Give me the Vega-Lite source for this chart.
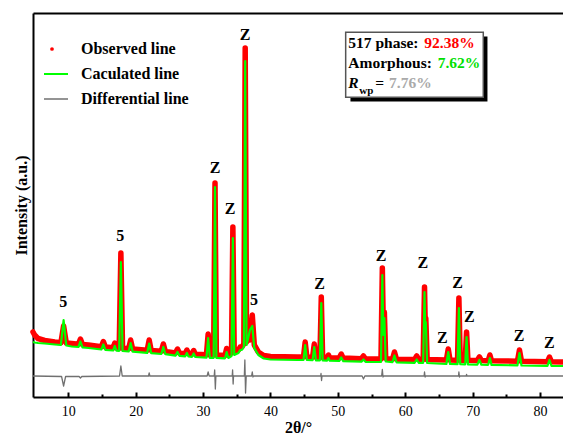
{
  "$schema": "https://vega.github.io/schema/vega-lite/v6.json",
  "width": 530,
  "height": 384,
  "autosize": {"type": "none"},
  "padding": {"left": 33, "top": 13, "right": 0, "bottom": 38},
  "background": "white",
  "config": {"view": {"stroke": null}, "font": "Times New Roman, Liberation Serif, serif"},
  "datasets": {
    "profile": [
      {"t": 4.76, "obs": 65, "calc": 55}, {"t": 5.0, "obs": 62, "calc": 54.5}, {"t": 5.5, "obs": 58.5, "calc": 54}, {"t": 6.5, "obs": 56.5, "calc": 53.5},
      {"t": 8, "obs": 55, "calc": 52.5}, {"t": 8.9, "obs": 54.3, "calc": 52}, {"t": 9.3, "obs": 71, "calc": 77}, {"t": 9.7, "obs": 54, "calc": 51.5},
      {"t": 10.5, "obs": 53.5, "calc": 50.5}, {"t": 11.5, "obs": 52.8, "calc": 50}, {"t": 11.8, "obs": 58, "calc": 55.5}, {"t": 12.1, "obs": 52.5, "calc": 49.7},
      {"t": 13, "obs": 52, "calc": 49}, {"t": 14.9, "obs": 50.3, "calc": 47.5}, {"t": 15.2, "obs": 55.5, "calc": 52.5}, {"t": 15.5, "obs": 50, "calc": 47.2},
      {"t": 16.65, "obs": 49.2, "calc": 46.5}, {"t": 16.9, "obs": 54, "calc": 51}, {"t": 17.15, "obs": 49, "calc": 46.3}, {"t": 17.55, "obs": 48.8, "calc": 46.2},
      {"t": 17.8, "obs": 144, "calc": 135}, {"t": 18.05, "obs": 48.7, "calc": 46}, {"t": 18.95, "obs": 48.2, "calc": 45.5}, {"t": 19.25, "obs": 57, "calc": 54},
      {"t": 19.55, "obs": 48, "calc": 45.3}, {"t": 21.7, "obs": 46.8, "calc": 44.1}, {"t": 22.0, "obs": 57, "calc": 53.5}, {"t": 22.3, "obs": 46.5, "calc": 43.8},
      {"t": 23.8, "obs": 45.8, "calc": 43}, {"t": 24.1, "obs": 53, "calc": 50}, {"t": 24.4, "obs": 45.5, "calc": 42.8}, {"t": 25.9, "obs": 44, "calc": 41.4},
      {"t": 26.2, "obs": 48, "calc": 45}, {"t": 26.5, "obs": 43.8, "calc": 41.2}, {"t": 27.35, "obs": 43.4, "calc": 40.7}, {"t": 27.6, "obs": 47, "calc": 44},
      {"t": 27.85, "obs": 43.2, "calc": 40.5}, {"t": 28.35, "obs": 43, "calc": 40.2}, {"t": 28.6, "obs": 46.5, "calc": 43.5}, {"t": 28.85, "obs": 42.8, "calc": 40},
      {"t": 30.5, "obs": 42.2, "calc": 39.4}, {"t": 30.75, "obs": 63, "calc": 59}, {"t": 31.0, "obs": 42, "calc": 39.2}, {"t": 31.57, "obs": 42, "calc": 39.2},
      {"t": 31.77, "obs": 214, "calc": 210}, {"t": 31.97, "obs": 42, "calc": 39.2}, {"t": 33.25, "obs": 41.5, "calc": 38.7}, {"t": 33.5, "obs": 48.5, "calc": 45},
      {"t": 33.75, "obs": 42, "calc": 39}, {"t": 34.22, "obs": 44, "calc": 41}, {"t": 34.42, "obs": 170, "calc": 159}, {"t": 34.62, "obs": 45, "calc": 42},
      {"t": 35.25, "obs": 47, "calc": 44}, {"t": 35.5, "obs": 50, "calc": 47}, {"t": 35.75, "obs": 50, "calc": 47}, {"t": 36.05, "obs": 53, "calc": 50},
      {"t": 36.25, "obs": 349, "calc": 336}, {"t": 36.45, "obs": 55, "calc": 52}, {"t": 36.7, "obs": 62, "calc": 59}, {"t": 36.95, "obs": 57, "calc": 67},
      {"t": 37.3, "obs": 82, "calc": 71}, {"t": 37.6, "obs": 52, "calc": 49}, {"t": 38.2, "obs": 45, "calc": 42}, {"t": 39, "obs": 41.5, "calc": 38.5},
      {"t": 40, "obs": 40.5, "calc": 37.5}, {"t": 44, "obs": 40, "calc": 37}, {"t": 44.9, "obs": 40, "calc": 37}, {"t": 45.15, "obs": 55, "calc": 52},
      {"t": 45.4, "obs": 40, "calc": 37}, {"t": 46.25, "obs": 39.8, "calc": 36.8}, {"t": 46.5, "obs": 53, "calc": 50}, {"t": 46.75, "obs": 39.7, "calc": 36.7},
      {"t": 47.34, "obs": 39.7, "calc": 36.7}, {"t": 47.54, "obs": 100, "calc": 94}, {"t": 47.74, "obs": 39.6, "calc": 36.6}, {"t": 48.4, "obs": 39.4, "calc": 36.4},
      {"t": 48.6, "obs": 42, "calc": 39}, {"t": 48.8, "obs": 39.3, "calc": 36.3}, {"t": 50.2, "obs": 39, "calc": 36}, {"t": 50.5, "obs": 43, "calc": 39.5},
      {"t": 50.8, "obs": 38.9, "calc": 35.9}, {"t": 53.5, "obs": 38.3, "calc": 35.3}, {"t": 53.8, "obs": 41, "calc": 37.5}, {"t": 54.1, "obs": 38.2, "calc": 35.2},
      {"t": 56.4, "obs": 38, "calc": 35}, {"t": 56.6, "obs": 129, "calc": 122}, {"t": 56.75, "obs": 67, "calc": 62}, {"t": 56.9, "obs": 85, "calc": 79},
      {"t": 57.1, "obs": 38.5, "calc": 35.5}, {"t": 58.1, "obs": 37.8, "calc": 34.8}, {"t": 58.4, "obs": 45, "calc": 41.5}, {"t": 58.7, "obs": 37.7, "calc": 34.7},
      {"t": 61.4, "obs": 37.5, "calc": 34.2}, {"t": 61.7, "obs": 41, "calc": 37.5}, {"t": 62.0, "obs": 37.5, "calc": 34.2}, {"t": 62.66, "obs": 37.5, "calc": 34.2},
      {"t": 62.86, "obs": 110, "calc": 105}, {"t": 62.95, "obs": 77, "calc": 72}, {"t": 63.05, "obs": 79, "calc": 75}, {"t": 63.25, "obs": 37.4, "calc": 34},
      {"t": 66.1, "obs": 36.9, "calc": 33}, {"t": 66.38, "obs": 48, "calc": 45}, {"t": 66.65, "obs": 36.9, "calc": 33}, {"t": 67.76, "obs": 36.8, "calc": 32.8},
      {"t": 67.96, "obs": 99, "calc": 89}, {"t": 68.16, "obs": 36.8, "calc": 32.8}, {"t": 68.9, "obs": 36.8, "calc": 32.7}, {"t": 69.1, "obs": 65, "calc": 60},
      {"t": 69.3, "obs": 36.7, "calc": 32.6}, {"t": 70.7, "obs": 36.5, "calc": 32.4}, {"t": 71.0, "obs": 40, "calc": 37}, {"t": 71.3, "obs": 36.5, "calc": 32.3},
      {"t": 72.3, "obs": 36.3, "calc": 32.2}, {"t": 72.56, "obs": 42, "calc": 39}, {"t": 72.8, "obs": 36.2, "calc": 32.1}, {"t": 76.65, "obs": 35.8, "calc": 31.6},
      {"t": 76.95, "obs": 47, "calc": 44}, {"t": 77.25, "obs": 35.8, "calc": 31.5}, {"t": 81.1, "obs": 35.2, "calc": 31.1}, {"t": 81.4, "obs": 40, "calc": 37},
      {"t": 81.7, "obs": 35.2, "calc": 31.1}, {"t": 83.41, "obs": 35, "calc": 31}
    ],
    "diff": [
      {"t": 4.76, "d": 21}, {"t": 9.0, "d": 20.5}, {"t": 9.3, "d": 11}, {"t": 9.6, "d": 20.5}, {"t": 11.6, "d": 20.5}, {"t": 11.8, "d": 19}, {"t": 12.0, "d": 20.5},
      {"t": 17.6, "d": 21}, {"t": 17.8, "d": 31}, {"t": 18.0, "d": 21}, {"t": 21.9, "d": 21}, {"t": 22.0, "d": 24}, {"t": 22.1, "d": 21},
      {"t": 30.6, "d": 21}, {"t": 30.75, "d": 25}, {"t": 30.9, "d": 21}, {"t": 31.65, "d": 21}, {"t": 31.72, "d": 27}, {"t": 31.82, "d": 8}, {"t": 31.9, "d": 21},
      {"t": 34.32, "d": 21}, {"t": 34.38, "d": 27}, {"t": 34.46, "d": 13}, {"t": 34.52, "d": 21}, {"t": 36.12, "d": 21}, {"t": 36.2, "d": 37}, {"t": 36.3, "d": 4}, {"t": 36.4, "d": 21},
      {"t": 37.2, "d": 21}, {"t": 37.3, "d": 25}, {"t": 37.4, "d": 20}, {"t": 37.5, "d": 21}, {"t": 47.45, "d": 21}, {"t": 47.5, "d": 23.5}, {"t": 47.58, "d": 16.5}, {"t": 47.65, "d": 21},
      {"t": 53.6, "d": 21}, {"t": 53.8, "d": 18}, {"t": 54.0, "d": 21}, {"t": 56.5, "d": 21}, {"t": 56.6, "d": 27.5}, {"t": 56.7, "d": 20}, {"t": 56.8, "d": 21},
      {"t": 62.8, "d": 21}, {"t": 62.86, "d": 25}, {"t": 62.95, "d": 20}, {"t": 63.0, "d": 21}, {"t": 67.9, "d": 21}, {"t": 67.96, "d": 25}, {"t": 68.05, "d": 20}, {"t": 68.1, "d": 21},
      {"t": 69.05, "d": 21}, {"t": 69.1, "d": 22.5}, {"t": 69.15, "d": 21}, {"t": 83.41, "d": 21}
    ],
    "peaks": [
      {"t": 9.25, "I": 95, "label": "5"}, {"t": 17.7, "I": 161, "label": "5"}, {"t": 31.77, "I": 229, "label": "Z"}, {"t": 34.0, "I": 188, "label": "Z"},
      {"t": 36.25, "I": 362, "label": "Z"}, {"t": 37.55, "I": 97, "label": "5"}, {"t": 47.3, "I": 113, "label": "Z"}, {"t": 56.4, "I": 141, "label": "Z"},
      {"t": 62.6, "I": 134, "label": "Z"}, {"t": 65.5, "I": 59, "label": "Z"}, {"t": 67.75, "I": 114, "label": "Z"}, {"t": 69.5, "I": 80, "label": "Z"},
      {"t": 76.9, "I": 61, "label": "Z"}, {"t": 81.37, "I": 54, "label": "Z"}
    ],
    "box": [
      {"t": 51.55, "I": 348.7, "text": "517 phase:", "part": "label"},
      {"t": 62.83, "I": 348.7, "text": "92.38%", "part": "phase"},
      {"t": 51.55, "I": 328.7, "text": "Amorphous:", "part": "label"},
      {"t": 64.81, "I": 328.7, "text": "7.62%", "part": "amorphous"},
      {"t": 51.55, "I": 309, "text": "R", "part": "R"},
      {"t": 53.18, "I": 303.5, "text": "wp", "part": "wp"},
      {"t": 55.55, "I": 309, "text": "=", "part": "label"},
      {"t": 57.59, "I": 309, "text": "7.76%", "part": "rwp"}
    ]
  },
  "layer": [
    {
      "data": {"name": "profile"},
      "mark": {"type": "line", "strokeWidth": 5.5, "strokeJoin": "round", "strokeCap": "round"},
      "encoding": {
        "x": {"field": "t", "type": "quantitative",
          "scale": {"domain": [4.76, 83.41], "nice": false, "zero": false},
          "axis": {"orient": "bottom", "values": [10, 20, 30, 40, 50, 60, 70, 80], "tickSize": -5, "tickWidth": 2, "tickColor": "black",
            "domainColor": "black", "domainWidth": 2, "labelFont": "Times New Roman, Liberation Serif, serif", "labelFontSize": 14, "labelColor": "black",
            "labelPadding": 12, "grid": false, "title": "2θ/°", "titleFont": "Times New Roman, Liberation Serif, serif", "titleFontSize": 16, "titleFontWeight": "bold",
            "titleColor": "black", "titleBaseline": "alphabetic", "titleY": 35}},
        "y": {"field": "obs", "type": "quantitative",
          "scale": {"domain": [0, 384], "nice": false, "zero": false},
          "axis": {"orient": "left", "ticks": false, "labels": false, "grid": false, "domainColor": "black", "domainWidth": 2,
            "title": "Intensity (a.u.)", "titleFont": "Times New Roman, Liberation Serif, serif", "titleFontSize": 16, "titleFontWeight": "bold", "titleColor": "black", "titlePadding": 4}},
        "color": {"datum": "Observed line", "type": "nominal",
          "scale": {"domain": ["Observed line", "Caculated line", "Differential line"], "range": ["#ff0000", "#00ff00", "#707070"]},
          "legend": {"orient": "none", "legendX": 11, "legendY": 26, "title": null, "padding": 0,
            "symbolType": "stroke", "symbolSize": 1024, "symbolStrokeWidth": 2, "clipHeight": 20, "rowPadding": 5, "labelOffset": 21,
            "labelFont": "Times New Roman, Liberation Serif, serif", "labelFontSize": 16, "labelFontWeight": "bold", "labelColor": "black",
            "encode": {"symbols": {"update": {
              "shape": {"signal": "datum.value === 'Observed line' ? 'circle' : 'stroke'"},
              "size": {"signal": "datum.value === 'Observed line' ? 14 : 1024"},
              "fill": {"signal": "datum.value === 'Observed line' ? '#ff0000' : 'transparent'"},
              "strokeWidth": {"signal": "datum.value === 'Observed line' ? 0 : (datum.value === 'Caculated line' ? 2 : 1.5)"}
            }}}}}
      }
    },
    {
      "data": {"name": "profile"},
      "mark": {"type": "line", "strokeWidth": 2.2, "strokeJoin": "round"},
      "encoding": {
        "x": {"field": "t", "type": "quantitative",
          "axis": {"orient": "bottom", "values": [15, 25, 35, 45, 55, 65, 75], "tickSize": -3, "tickWidth": 2, "tickColor": "black",
            "labels": false, "domain": false, "grid": false, "title": null}},
        "y": {"field": "calc", "type": "quantitative"},
        "color": {"datum": "Caculated line", "type": "nominal"}
      }
    },
    {
      "data": {"name": "diff"},
      "mark": {"type": "line", "strokeWidth": 1.3, "strokeJoin": "round"},
      "encoding": {
        "x": {"field": "t", "type": "quantitative",
          "axis": {"orient": "top", "ticks": false, "labels": false, "domainColor": "black", "domainWidth": 2, "grid": false, "title": null}},
        "y": {"field": "d", "type": "quantitative"},
        "color": {"datum": "Differential line", "type": "nominal"}
      }
    },
    {
      "data": {"name": "peaks"},
      "mark": {"type": "text", "font": "Times New Roman, Liberation Serif, serif", "fontSize": 16, "fontWeight": "bold", "color": "black", "align": "center", "baseline": "middle"},
      "encoding": {
        "x": {"field": "t", "type": "quantitative", "axis": null},
        "y": {"field": "I", "type": "quantitative"},
        "text": {"field": "label"}
      }
    },
    {
      "data": {"values": [{}]},
      "mark": {"type": "rect", "color": "black"},
      "encoding": {
        "x": {"datum": 51.87, "type": "quantitative", "axis": null},
        "x2": {"datum": 72.2},
        "y": {"datum": 295.5, "type": "quantitative"},
        "y2": {"datum": 360.5}
      }
    },
    {
      "data": {"values": [{}]},
      "mark": {"type": "rect", "fill": "white", "stroke": "#555555", "strokeWidth": 1.5},
      "encoding": {
        "x": {"datum": 51.16, "type": "quantitative", "axis": null},
        "x2": {"datum": 71.58},
        "y": {"datum": 299.7, "type": "quantitative"},
        "y2": {"datum": 364.7}
      }
    },
    {
      "data": {"name": "box"},
      "transform": [{"filter": "datum.part === 'label'"}],
      "mark": {"type": "text", "font": "Times New Roman, Liberation Serif, serif", "fontSize": 15.5, "fontWeight": "bold", "color": "black", "align": "left", "baseline": "alphabetic"},
      "encoding": {"x": {"field": "t", "type": "quantitative", "axis": null}, "y": {"field": "I", "type": "quantitative"}, "text": {"field": "text"}}
    },
    {
      "data": {"name": "box"},
      "transform": [{"filter": "datum.part === 'phase'"}],
      "mark": {"type": "text", "font": "Times New Roman, Liberation Serif, serif", "fontSize": 15.5, "fontWeight": "bold", "color": "#ff0000", "align": "left", "baseline": "alphabetic"},
      "encoding": {"x": {"field": "t", "type": "quantitative", "axis": null}, "y": {"field": "I", "type": "quantitative"}, "text": {"field": "text"}}
    },
    {
      "data": {"name": "box"},
      "transform": [{"filter": "datum.part === 'amorphous'"}],
      "mark": {"type": "text", "font": "Times New Roman, Liberation Serif, serif", "fontSize": 15.5, "fontWeight": "bold", "color": "#00e000", "align": "left", "baseline": "alphabetic"},
      "encoding": {"x": {"field": "t", "type": "quantitative", "axis": null}, "y": {"field": "I", "type": "quantitative"}, "text": {"field": "text"}}
    },
    {
      "data": {"name": "box"},
      "transform": [{"filter": "datum.part === 'rwp'"}],
      "mark": {"type": "text", "font": "Times New Roman, Liberation Serif, serif", "fontSize": 15.5, "fontWeight": "bold", "color": "#aaaaaa", "align": "left", "baseline": "alphabetic"},
      "encoding": {"x": {"field": "t", "type": "quantitative", "axis": null}, "y": {"field": "I", "type": "quantitative"}, "text": {"field": "text"}}
    },
    {
      "data": {"name": "box"},
      "transform": [{"filter": "datum.part === 'R'"}],
      "mark": {"type": "text", "font": "Times New Roman, Liberation Serif, serif", "fontSize": 15.5, "fontWeight": "bold", "fontStyle": "italic", "color": "black", "align": "left", "baseline": "alphabetic"},
      "encoding": {"x": {"field": "t", "type": "quantitative", "axis": null}, "y": {"field": "I", "type": "quantitative"}, "text": {"field": "text"}}
    },
    {
      "data": {"name": "box"},
      "transform": [{"filter": "datum.part === 'wp'"}],
      "mark": {"type": "text", "font": "Times New Roman, Liberation Serif, serif", "fontSize": 11, "fontWeight": "bold", "color": "black", "align": "left", "baseline": "alphabetic"},
      "encoding": {"x": {"field": "t", "type": "quantitative", "axis": null}, "y": {"field": "I", "type": "quantitative"}, "text": {"field": "text"}}
    }
  ],
  "resolve": {"axis": {"x": "independent"}}
}
